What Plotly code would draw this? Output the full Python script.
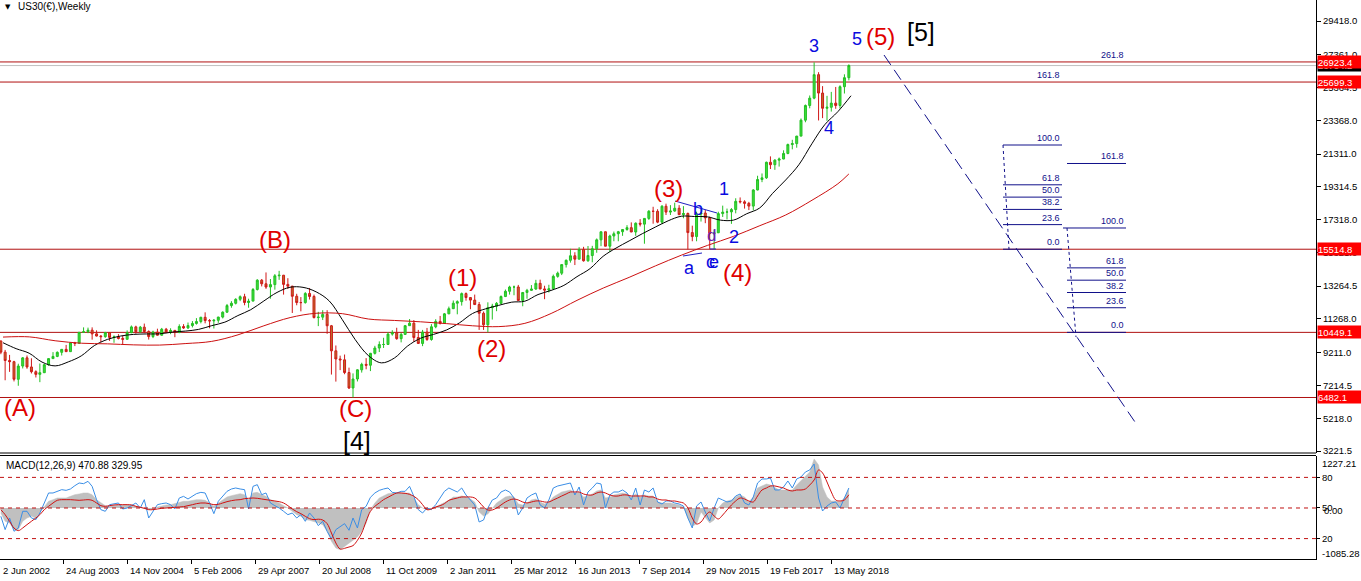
import pandas as pd
import plotly.graph_objects as go

# ---------------- data (monthly, Jun 2002 .. Sep 2018) ----------------
OPEN = [
    9925, 9243, 8736, 8663, 7592, 8397, 8896,
    8342, 8054, 7891, 7992, 8480, 8850, 8985, 9233, 9415, 9275, 9801, 9782,
    10454, 10488, 10584, 10358, 10226, 10188, 10435, 10140, 10174, 10080, 10027, 10428,
    10783, 10490, 10766, 10504, 10193, 10467, 10275, 10641, 10482, 10569, 10440, 10806,
    10718, 10865, 10993, 11109, 11367, 11168, 11150, 11186, 11381, 11679, 12081, 12222,
    12463, 12622, 12269, 12354, 13063, 13628, 13409, 13212, 13358, 13896, 13930, 13372,
    13265, 12650, 12266, 12263, 12820, 12638, 11350, 11378, 11544, 10851, 9325, 8829,
    8776, 8001, 7063, 7609, 8168, 8500, 8447, 9172, 9496, 9712, 9713, 10345,
    10428, 10067, 10325, 10857, 11009, 10137, 9774, 10466, 10015, 10788, 11118, 11006,
    11578, 11892, 12226, 12320, 12811, 12570, 12414, 12143, 11614, 10913, 11955, 12046,
    12218, 12633, 12952, 13212, 13214, 12393, 12880, 13009, 13091, 13437, 13096, 13026,
    13104, 13861, 14054, 14579, 14840, 15116, 14910, 15500, 14810, 15130, 15546, 16086,
    16577, 15699, 16322, 16458, 16581, 16717, 16827, 16563, 17098, 17043, 17391, 17828,
    17823, 17165, 18133, 17776, 17841, 18011, 17620, 17690, 16528, 16285, 17664, 17720,
    17425, 16466, 16517, 17685, 17774, 17787, 17930, 18432, 18401, 18308, 18142, 19124,
    19763, 19864, 20812, 20663, 20941, 21009, 21350, 21891, 21948, 22405, 23377, 24272,
    24719, 26149, 25029, 24103, 24163, 24416, 24271, 25415, 25965,
]
HIGH = [
    9950, 9380, 9077, 8717, 8539, 8949, 9043,
    8869, 8136, 8552, 8515, 8867, 9247, 9290, 9430, 9686, 9836, 9873, 10462,
    10754, 10738, 10754, 10571, 10280, 10480, 10448, 10264, 10342, 10239, 10572, 10868,
    10854, 10841, 10984, 10570, 10550, 10673, 10720, 10720, 10700, 10600, 10940, 10950,
    11048, 11137, 11317, 11400, 11670, 11260, 11260, 11400, 11730, 12180, 12350, 12530,
    12700, 12800, 12500, 13150, 13690, 13700, 14100, 13700, 14000, 14198, 13950, 13750,
    13280, 12800, 12600, 12900, 13150, 12750, 11700, 11800, 11800, 10900, 9650, 9030,
    9100, 8300, 7950, 8200, 8600, 8880, 9200, 9630, 9900, 10120, 10460, 10580,
    10730, 10420, 10900, 11260, 11200, 10600, 10600, 10720, 10950, 11250, 11450, 11630,
    12020, 12390, 12400, 12880, 12880, 12600, 12750, 12300, 11720, 12280, 12190, 12300,
    12700, 13060, 13290, 13300, 13340, 12900, 13100, 13330, 13650, 13660, 13290, 13350,
    13970, 14150, 14590, 14890, 15540, 15330, 15640, 15660, 15710, 15720, 16170, 16590,
    16590, 16400, 16590, 16630, 16740, 16980, 17150, 17150, 17350, 17400, 17900, 18100,
    17950, 18200, 18290, 18200, 18350, 18200, 18140, 17750, 16950, 17800, 17980, 17900,
    17500, 16700, 17800, 18170, 17990, 18020, 18620, 18670, 18500, 18400, 19170, 19990,
    20130, 20850, 21170, 21000, 21100, 21540, 21950, 22180, 22420, 23480, 24330, 24880,
    26900, 26300, 25450, 24860, 25100, 25400, 25500, 26170, 26780,
]
LOW = [
    9120, 7532, 8043, 7461, 7197, 8251, 8233,
    7946, 7702, 7416, 7992, 8414, 8850, 8940, 9040, 9270, 9275, 9614, 9782,
    10410, 10400, 10007, 10200, 9852, 10120, 9931, 9815, 10020, 9708, 10027, 10400,
    10368, 10420, 10404, 10012, 10100, 10260, 10250, 10400, 10340, 10156, 10400, 10660,
    10660, 10750, 10920, 11000, 11000, 10700, 10683, 11030, 11300, 11650, 11950, 12150,
    12350, 12100, 11950, 12350, 13000, 13250, 13100, 12500, 13050, 13650, 12750, 13100,
    11630, 12100, 11730, 12200, 12450, 11300, 10830, 11200, 10360, 7880, 7450, 8150,
    7900, 7000, 6482, 7460, 8000, 8200, 8090, 9100, 9250, 9500, 9700, 10250,
    10000, 9840, 10300, 10850, 9870, 9750, 9610, 9930, 9940, 10700, 10930, 11000,
    11560, 11880, 11550, 12080, 12380, 11860, 12140, 10600, 10600, 10449, 11230, 11740,
    12180, 12600, 12750, 12710, 12380, 12040, 12500, 12980, 13040, 13070, 12470, 12880,
    13100, 13780, 13940, 14400, 14700, 14550, 14900, 14760, 14750, 14720, 15300, 15700,
    15690, 15340, 16000, 16000, 16330, 16640, 16560, 16330, 16900, 15850, 17300, 17070,
    17100, 17040, 17600, 17600, 17800, 17600, 17400, 15500, 16000, 16000, 17200, 17100,
    15515, 15520, 16500, 17480, 17330, 17060, 17700, 18300, 17990, 17900, 17880, 19100,
    19600, 19800, 20400, 20350, 20550, 21000, 21300, 21600, 21700, 22400, 23250, 24100,
    24650, 23360, 23500, 23340, 23900, 24070, 24080, 25000, 25800,
]
CLOSE = [
    9243, 8736, 8663, 7592, 8397, 8896, 8342,
    8054, 7891, 7992, 8480, 8850, 8985, 9233, 9415, 9275, 9801, 9782, 10454,
    10488, 10584, 10358, 10226, 10188, 10435, 10140, 10174, 10080, 10027, 10428, 10783,
    10490, 10766, 10504, 10193, 10467, 10275, 10641, 10482, 10569, 10440, 10806, 10718,
    10865, 10993, 11109, 11367, 11168, 11150, 11186, 11381, 11679, 12081, 12222, 12463,
    12622, 12269, 12354, 13063, 13628, 13409, 13212, 13358, 13896, 13930, 13372, 13265,
    12650, 12266, 12263, 12820, 12638, 11350, 11378, 11544, 10851, 9325, 8829, 8776,
    8001, 7063, 7609, 8168, 8500, 8447, 9172, 9496, 9712, 9713, 10345, 10428,
    10067, 10325, 10857, 11009, 10137, 9774, 10466, 10015, 10788, 11118, 11006, 11578,
    11892, 12226, 12320, 12811, 12570, 12414, 12143, 11614, 10913, 11955, 12046, 12218,
    12633, 12952, 13212, 13214, 12393, 12880, 13009, 13091, 13437, 13096, 13026, 13104,
    13861, 14054, 14579, 14840, 15116, 14910, 15500, 14810, 15130, 15546, 16086, 16577,
    15699, 16322, 16458, 16581, 16717, 16827, 16563, 17098, 17043, 17391, 17828, 17823,
    17165, 18133, 17776, 17841, 18011, 17620, 17690, 16528, 16285, 17664, 17720, 17425,
    16466, 16517, 17685, 17774, 17787, 17930, 18432, 18401, 18308, 18142, 19124, 19763,
    19864, 20812, 20663, 20941, 21009, 21350, 21891, 21948, 22405, 23377, 24272, 24719,
    26149, 25029, 24103, 24163, 24416, 24271, 25415, 25965, 26704,
]

# MACD panel (monthly readings): histogram (grey), signal (red), blue line
MACD_HIST = [
    -125, -333, -375, -541, -541, -333, -250,
    -208, -250, -125, 42, 167, 208, 250, 250, 250, 291, 333, 350,
    375, 375, 333, 208, 125, 58, 42, 58, 83, 75, 83, 83,
    42, 25, -8, -42, -25, 25, 58, 75, 83, 108, 142, 167,
    167, 192, 208, 208, 192, 125, 42, 125, 208, 275, 308, 333,
    358, 333, 208, 375, 391, 333, 291, 208, 167, 125, 58, 0,
    -83, -167, -208, -291, -308, -333, -375, -416, -583, -833, -1000, -1041,
    -958, -875, -791, -725, -583, -375, -42, 125, 250, 308, 358, 375,
    375, 391, 391, 375, 250, 83, 0, -42, -25, 25, 83, 142,
    192, 275, 275, 300, 275, 225, 150, -100, -200, -150, 0, 125,
    200, 275, 300, 275, 100, 75, 125, 200, 225, 150, 100, 150,
    275, 350, 400, 425, 450, 375, 400, 275, 300, 350, 425, 450,
    250, 275, 325, 350, 375, 350, 275, 350, 275, 325, 300, 300,
    150, 125, 125, 125, 100, 75, 25, -250, -450, -400, -100, -250,
    -375, -300, 0, 125, 175, 200, 275, 325, 275, 150, 275, 500,
    550, 600, 575, 500, 450, 450, 450, 450, 575, 675, 775, 900,
    1227, 1075, 525, 275, 175, 175, 150, 250, 471,
]
MACD_SIGNAL = [
    -42, -167, -333, -500, -566, -500, -416,
    -333, -250, -167, -42, 42, 125, 192, 208, 208, 208, 200, 192,
    200, 208, 192, 125, 58, 42, 58, 75, 83, 83, 83, 75,
    42, 17, -8, -42, -42, -25, -8, 0, 8, 17, 25, 33,
    58, 83, 108, 125, 125, 108, 83, 92, 125, 158, 183, 200,
    208, 233, 242, 250, 242, 225, 208, 192, 175, 158, 125, 58,
    -25, -92, -142, -208, -267, -291, -280, -300, -391, -625, -875, -1025,
    -1008, -975, -941, -808, -625, -333, -83, 42, 125, 208, 267, 325,
    375, 375, 366, 341, 291, 208, 83, -42, -25, 25, 58, 108,
    192, 225, 250, 275, 275, 275, 250, 150, 25, -50, -50, 0,
    75, 150, 200, 225, 200, 150, 125, 150, 175, 175, 150, 150,
    200, 250, 300, 350, 400, 400, 400, 350, 325, 325, 375, 400,
    375, 325, 300, 300, 325, 325, 300, 300, 300, 300, 275, 275,
    225, 200, 200, 175, 175, 150, 125, 0, -250, -400, -350, -200,
    -100, -200, -275, -175, -50, 75, 175, 250, 225, 175, 150, 300,
    450, 500, 550, 550, 525, 500, 450, 425, 450, 450, 475, 575,
    700, 950, 875, 650, 400, 200, 175, 200, 330,
]
MACD_BLUE = [
    -208, -541, -250, -583, -500, -83, -83,
    -250, -291, -125, 125, 375, 375, 416, 458, 441, 475, 558, 625,
    608, 666, 541, 208, -42, -83, 83, 108, 125, -25, 0, 58,
    125, 0, 208, -250, -83, 83, 108, 125, 83, -25, 250, 291,
    225, 291, 358, 391, 375, 125, -142, 167, 291, 416, 475, 500,
    475, 458, -25, 541, 583, 333, 375, 125, 58, 0, -83, -167,
    -125, -250, -167, -333, -125, -250, -441, -333, -583, -775, -541, -475,
    -391, -558, -250, -500, -42, 42, 267, 375, 441, 475, 500, 391,
    375, 416, 416, 541, 291, -42, -125, 0, -42, 83, 250, 416,
    500, 450, 400, 500, 325, 200, 75, -350, -300, 0, 200, 250,
    400, 450, 400, 250, -175, 0, 250, 325, 375, 75, 0, 200,
    500, 550, 575, 600, 625, 325, 525, 75, 400, 500, 625, 600,
    0, 325, 400, 400, 450, 375, 200, 500, 75, 450, 400, 500,
    150, 100, 175, 175, 125, 100, 50, -250, -500, 50, 150, -100,
    -325, 0, 250, 200, 150, 175, 300, 350, 125, 75, 275, 625,
    725, 725, 750, 450, 450, 525, 675, 500, 725, 775, 900, 950,
    1100, 250, -75, 50, 125, 150, 0, 250, 500,
]

# moving averages (black: quarterly points, red: half-yearly points)
BLACK_MA = [
    9818, 9457, 9181,
    8640, 8407, 8651, 9018,
    9642, 10020, 10226, 10326,
    10353, 10361, 10469, 10529,
    10630, 10859, 11072, 11472,
    11829, 12363, 12881, 13198,
    13193, 12918, 12361, 11224,
    10015, 9041, 8592, 8888,
    9603, 10086, 10327, 10595,
    11027, 11600, 11884, 12094,
    12290, 12348, 12753, 13004,
    13312, 13844, 14336, 15084,
    15583, 16021, 16460, 16863,
    17245, 17524, 17508, 17488,
    17288, 17289, 17676, 18027,
    18917, 19734, 20659, 21938,
    23099, 23895, 24865,
]
RED_MA_DATES = [
    "2002-06-30", "2002-12-31", "2003-06-30", "2003-12-31", "2004-06-30", "2004-12-31",
    "2005-06-30", "2005-12-31", "2006-06-30", "2006-12-31", "2007-06-30", "2007-12-31",
    "2008-06-30", "2008-12-31", "2009-06-30", "2009-12-31", "2010-06-30", "2010-12-31",
    "2011-06-30", "2011-12-31", "2012-06-30", "2012-12-31", "2013-06-30", "2013-12-31",
    "2014-06-30", "2014-12-31", "2015-06-30", "2015-12-31", "2016-06-30", "2016-12-31",
    "2017-06-30", "2017-12-31", "2018-06-30", "2018-09-15",
]
RED_MA = [
    10163, 10175, 9938, 9788, 9750, 9688,
    9675, 9769, 9900, 10300, 10850, 11350,
    11613, 11588, 11263, 11175, 11094, 10981,
    10850, 10800, 11000, 11600, 12400, 13150,
    13800, 14500, 15150, 15750, 16300, 16950,
    17600, 18500, 19500, 20100,
]

# horizontal levels and their right-axis boxes
RED_LEVELS = [26923.4, 25699.3, 15514.8, 10449.1, 6482.1]
CURRENT_PRICE = 26704.2

PRICE_TICKS = [29418.0, 27361.0, 25364.5, 23368.0, 21311.0, 19314.5, 17318.0, 15321.0,
               13264.5, 11268.0, 9211.0, 7214.5, 5218.0, 3221.5]
DATE_TICKS = ["2002-06-02", "2003-08-24", "2004-11-14", "2006-02-05", "2007-04-29",
              "2008-07-20", "2009-10-11", "2011-01-02", "2012-03-25", "2013-06-16",
              "2014-09-07", "2015-11-29", "2017-02-19", "2018-05-13"]
DATE_LABELS = ["2 Jun 2002", "24 Aug 2003", "14 Nov 2004", "5 Feb 2006", "29 Apr 2007",
               "20 Jul 2008", "11 Oct 2009", "2 Jan 2011", "25 Mar 2012", "16 Jun 2013",
               "7 Sep 2014", "29 Nov 2015", "19 Feb 2017", "13 May 2018"]

FIB_RATIOS_1 = [0.0, 0.236, 0.382, 0.5, 0.618, 1.0]
FIB_LABELS_1 = ["0.0", "23.6", "38.2", "50.0", "61.8", "100.0"]
FIB1_LOW, FIB1_HIGH = 15514.8, 21864.0
FIB_RATIOS_2 = [0.0, 0.236, 0.382, 0.5, 0.618, 1.0, 1.618]
FIB_LABELS_2 = ["0.0", "23.6", "38.2", "50.0", "61.8", "100.0", "161.8"]
FIB2_LOW, FIB2_HIGH = 10449.1, 16808.0

# ---------------- geometry helpers (for drawings / labels) ----------------
PW, PH = 1316, 559
BASE = pd.Timestamp("2002-06-02")


def xdate(px):
    return BASE + pd.Timedelta(weeks=px + 1)


def date_px(d):
    return (pd.Timestamp(d) - BASE).days / 7.0 - 1


def price_at(py):
    return 29418.0 - (py - 21) * 60.92


def xp(px):
    return px / PW


def yp(py):
    return 1 - py / PH


FONT = "Liberation Sans, Arial, sans-serif"
AX = 9.5
NAVY = "#10108a"
BLUE = "#0a0ae0"
RED = "#e00000"
LINE_RED = "#b01010"

MONTHS = pd.date_range("2002-06-01", periods=len(CLOSE), freq="MS") + pd.Timedelta(days=14)
BLACK_DATES = pd.date_range("2002-06-01", periods=len(BLACK_MA), freq="3MS") + pd.Timedelta(days=29)

fig = go.Figure()

fig.add_trace(go.Candlestick(
    x=MONTHS, open=OPEN, high=HIGH, low=LOW, close=CLOSE,
    increasing=dict(line=dict(color="#22c022", width=1), fillcolor="#3ddc3d"),
    decreasing=dict(line=dict(color="#d01818", width=1), fillcolor="#b8742a"),
    whiskerwidth=0, showlegend=False, hoverinfo="skip", xaxis="x", yaxis="y"))

fig.add_trace(go.Scatter(x=BLACK_DATES, y=BLACK_MA, mode="lines", line=dict(color="black", width=1, shape="spline"),
                         showlegend=False, hoverinfo="skip", xaxis="x", yaxis="y"))
fig.add_trace(go.Scatter(x=pd.to_datetime(RED_MA_DATES), y=RED_MA, mode="lines",
                         line=dict(color="#cc1010", width=1, shape="spline"),
                         showlegend=False, hoverinfo="skip", xaxis="x", yaxis="y"))

# MACD
fig.add_trace(go.Scatter(x=MONTHS, y=MACD_HIST, mode="lines", fill="tozeroy", fillcolor="#c0c0c0",
                         line=dict(color="#c0c0c0", width=0.5), showlegend=False, hoverinfo="skip",
                         xaxis="x2", yaxis="y2"))
fig.add_trace(go.Scatter(x=MONTHS, y=MACD_BLUE, mode="lines", line=dict(color="#3a8ee6", width=1),
                         showlegend=False, hoverinfo="skip", xaxis="x2", yaxis="y2"))
fig.add_trace(go.Scatter(x=MONTHS, y=MACD_SIGNAL, mode="lines", line=dict(color="#d01010", width=1, shape="spline"),
                         showlegend=False, hoverinfo="skip", xaxis="x2", yaxis="y2"))

shapes = []
shapes.append(dict(type="line", xref="paper", yref="y", x0=0, x1=1, y0=CURRENT_PRICE, y1=CURRENT_PRICE,
                   line=dict(color="#c0c0c0", width=1), layer="below"))
for lv in RED_LEVELS:
    shapes.append(dict(type="line", xref="paper", yref="y", x0=0, x1=1, y0=lv, y1=lv,
                       line=dict(color=LINE_RED, width=1), layer="below"))
for lv in [765, 0, -765]:
    shapes.append(dict(type="line", xref="paper", yref="y2", x0=0, x1=1, y0=lv, y1=lv,
                       line=dict(color="#c01010", width=1, dash="4px,4px")))
shapes.append(dict(type="line", xref="paper", yref="paper", x0=0, x1=1, y0=yp(453), y1=yp(453),
                   line=dict(color="black", width=1)))
shapes.append(dict(type="line", xref="paper", yref="paper", x0=0, x1=1, y0=yp(455.5), y1=yp(455.5),
                   line=dict(color="black", width=1)))

annotations = []


def seg(x0, y0, x1, y1, color, dash=None, width=1):
    ln = dict(color=color, width=width)
    if dash:
        ln["dash"] = dash
    shapes.append(dict(type="line", xref="x", yref="y", x0=xdate(x0), x1=xdate(x1),
                       y0=price_at(y0), y1=price_at(y1), line=ln))


for r, lab in zip(FIB_RATIOS_1, FIB_LABELS_1):
    lv = FIB1_LOW + r * (FIB1_HIGH - FIB1_LOW)
    shapes.append(dict(type="line", xref="x", yref="y", x0=xdate(1003), x1=xdate(1062), y0=lv, y1=lv,
                       line=dict(color=NAVY, width=1)))
    annotations.append(dict(x=xdate(1062), y=lv, xref="x", yref="y", text=lab, showarrow=False,
                            xanchor="right", yanchor="bottom", font=dict(family=FONT, size=9, color=NAVY)))
shapes.append(dict(type="line", xref="x", yref="y", x0=xdate(1003), x1=xdate(1009), y0=FIB1_HIGH, y1=FIB1_LOW,
                   line=dict(color=NAVY, width=1, dash="3px,3px")))
for r, lab in zip(FIB_RATIOS_2, FIB_LABELS_2):
    lv = FIB2_LOW + r * (FIB2_HIGH - FIB2_LOW)
    x0 = 1063 if r == 1.0 else 1067
    shapes.append(dict(type="line", xref="x", yref="y", x0=xdate(x0), x1=xdate(1126), y0=lv, y1=lv,
                       line=dict(color=NAVY, width=1)))
    annotations.append(dict(x=xdate(1126), y=lv, xref="x", yref="y", text=lab, showarrow=False,
                            xanchor="right", yanchor="bottom", font=dict(family=FONT, size=9, color=NAVY)))
shapes.append(dict(type="line", xref="x", yref="y", x0=xdate(1067), x1=xdate(1076), y0=FIB2_HIGH,
                   y1=price_at(337), line=dict(color=NAVY, width=1, dash="3px,3px")))
annotations.append(dict(x=xdate(1126), y=26923.4, xref="x", yref="y", text="261.8", showarrow=False,
                        xanchor="right", yanchor="bottom", font=dict(family=FONT, size=9, color=NAVY)))
annotations.append(dict(x=xdate(1062), y=25699.3, xref="x", yref="y", text="161.8", showarrow=False,
                        xanchor="right", yanchor="bottom", font=dict(family=FONT, size=9, color=NAVY)))

seg(884, 55, 1135, 422, NAVY, dash="12px,6px")
seg(675, 201, 717, 213, "#2020c0")
seg(683, 256, 702, 253, "#2020c0")
seg(710, 249, 716, 249, "#2020c0")

WAVES = [
    ("(A)", 20, 407, RED, 24), ("(B)", 275, 239, RED, 24), ("(C)", 355, 408, RED, 24),
    ("(1)", 462, 278, RED, 24), ("(2)", 491, 348, RED, 24), ("(3)", 668, 188, RED, 24),
    ("(4)", 737, 272, RED, 24), ("(5)", 880, 37, RED, 24),
    ("[4]", 357, 441, "black", 25), ("[5]", 921, 32, "black", 25),
    ("3", 814, 46, BLUE, 18), ("5", 857, 39, BLUE, 18), ("4", 829, 128, BLUE, 18),
    ("1", 724, 189, BLUE, 18), ("2", 734, 237, BLUE, 18),
    ("a", 689, 268, BLUE, 18), ("b", 698, 209, BLUE, 18), ("d", 711, 235, "#7020b0", 17),
    ("c", 710, 262, BLUE, 18), ("e", 714, 262, BLUE, 18),
]
for t, x, y, c, s in WAVES:
    annotations.append(dict(x=xp(x), y=yp(y), xref="paper", yref="paper", text=t, showarrow=False,
                            xanchor="center", yanchor="middle", font=dict(family=FONT, size=s, color=c)))

annotations.append(dict(x=xp(8), y=yp(7), xref="paper", yref="paper", text="▼", showarrow=False,
                        xanchor="center", yanchor="middle", font=dict(family="DejaVu Sans", size=7, color="black")))
annotations.append(dict(x=xp(16), y=yp(7), xref="paper", yref="paper", text="US30(€),Weekly", showarrow=False,
                        xanchor="left", yanchor="middle", font=dict(family=FONT, size=10, color="black")))
annotations.append(dict(x=xp(4), y=yp(465), xref="paper", yref="paper", text="MACD(12,26,9) 470.88 329.95",
                        showarrow=False, xanchor="left", yanchor="middle",
                        font=dict(family=FONT, size=10, color="black")))

annotations.append(dict(x=1 + 1 / PW, y=CURRENT_PRICE, xref="paper", yref="y", text="26704.2", showarrow=False,
                        xanchor="left", yanchor="middle", bgcolor="black", width=44, height=11, borderpad=0,
                        align="left", font=dict(family=FONT, size=AX, color="white")))
for lv in RED_LEVELS:
    annotations.append(dict(x=1 + 1 / PW, y=lv, xref="paper", yref="y", text=f"{lv:.1f}", showarrow=False,
                            xanchor="left", yanchor="middle", bgcolor="#ff0000", width=44, height=12,
                            borderpad=0, align="left", font=dict(family=FONT, size=AX, color="white")))

for t, y, dx in [("1227.21", 463, 4), ("0.00", 510, 6), ("-1085.28", 553, 4)]:
    annotations.append(dict(x=1 + dx / PW, y=yp(y), xref="paper", yref="paper", text=t, showarrow=False,
                            xanchor="left", yanchor="middle", font=dict(family=FONT, size=AX, color="black")))

# date labels (left-aligned at their tick, as on the terminal)
for d, lab in zip(DATE_TICKS, DATE_LABELS):
    annotations.append(dict(x=max(xp(date_px(d)), 0), y=yp(563), xref="paper", yref="paper", text=lab,
                            showarrow=False, xanchor="left", yanchor="top", xshift=1,
                            font=dict(family=FONT, size=AX, color="black")))

fig.update_layout(
    width=1361, height=581, margin=dict(l=0, r=45, t=0, b=22),
    paper_bgcolor="white", plot_bgcolor="white", showlegend=False,
    font=dict(family=FONT, size=10, color="black"),
    xaxis=dict(domain=[0, 1], anchor="y", range=[xdate(0), xdate(1316)], showticklabels=False,
               showgrid=False, zeroline=False, rangeslider=dict(visible=False), showline=False),
    xaxis2=dict(domain=[0, 1], anchor="y2", matches="x", range=[xdate(0), xdate(1316)],
                tickvals=[pd.Timestamp(d) for d in DATE_TICKS], ticks="outside", ticklen=4,
                tickcolor="black", showticklabels=False, showgrid=False, zeroline=False,
                showline=True, linecolor="black", linewidth=1),
    yaxis=dict(domain=[yp(453), 1], anchor="x", side="right", range=[price_at(453), price_at(0)],
               tickvals=PRICE_TICKS, ticktext=[f"{v:.1f}" for v in PRICE_TICKS], ticks="outside",
               ticklen=4, tickcolor="black", showgrid=False, zeroline=False, showline=True,
               linecolor="black", linewidth=1, tickfont=dict(family=FONT, size=AX, color="black")),
    yaxis2=dict(domain=[0, yp(455.5)], anchor="x2", side="right", range=[-1275, 1312],
                tickvals=[765, 0, -765], ticktext=["80", "50", "20"], ticks="outside", ticklen=3,
                tickcolor="black", showgrid=False, zeroline=False, showline=True, linecolor="black",
                linewidth=1, tickfont=dict(family=FONT, size=AX, color="black")),
    shapes=shapes, annotations=annotations,
)

fig.write_html(
    "out.html",
    config={"displayModeBar": False, "staticPlot": True},
    post_script="document.body.style.margin='0';document.body.style.padding='0';"
                "document.documentElement.style.overflow='hidden';",
)
